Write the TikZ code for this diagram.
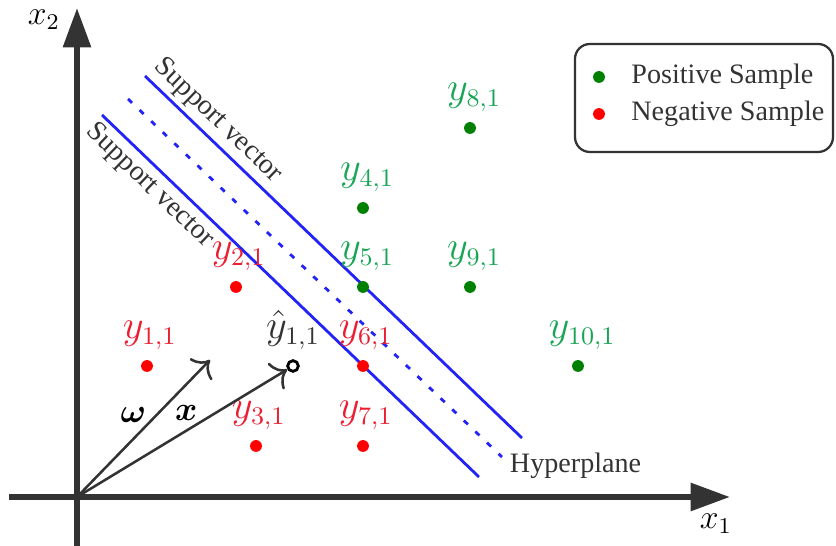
\documentclass[tikz,border=0pt]{standalone}
\usepackage{amsmath}
\usepackage{amssymb}
\usepackage{fontspec}
\setmainfont{Liberation Serif}
\usetikzlibrary{arrows.meta,positioning}

\definecolor{axisgray}{RGB}{51,51,51}
\definecolor{svblue}{RGB}{35,35,245}
\definecolor{dotgreen}{RGB}{0,128,0}
\definecolor{dotred}{RGB}{255,0,0}
\definecolor{labgreen}{RGB}{25,165,85}
\definecolor{labred}{RGB}{235,30,50}

\begin{document}
\begin{tikzpicture}[x=0.0125cm, y=0.0125cm,
    axis/.style={line width=2.1pt, draw=axisgray, -{Triangle[length=14pt,width=9.6pt]}},
    posdot/.style={circle, fill=dotgreen, inner sep=0pt, minimum size=4.2pt},
    negdot/.style={circle, fill=dotred, inner sep=0pt, minimum size=4.2pt},
    poslab/.style={text=labgreen, font=\fontsize{13.5}{16}\selectfont, xshift=1.5pt},
    neglab/.style={text=labred, font=\fontsize{13.5}{16}\selectfont, xshift=1pt},
    svline/.style={draw=svblue, line width=1pt},
    svtext/.style={sloped, text=axisgray, inner sep=1.6pt},
    vec/.style={draw=axisgray, line width=0.9pt, -{To[length=5pt,width=11pt]}}]
    \useasboundingbox (-77,-49) rectangle (759,497);

    % axes
    \coordinate (O) at (0,0);
    \draw[axis] (-68,0) -- (653,0);
    \draw[axis] (0,-49) -- (0,489);
    \node[font=\large] (x1) at (639,-27) {$x_1$};
    \node[font=\large] (x2) at (-33,477) {$x_2$};

    % margin and hyperplane
    \draw[svline] (25,382) -- (402,20)
        node[pos=0.16, svtext, below] {Support vector};
    \draw[svline] (68,421) -- (445,59)
        node[pos=0.16, svtext, above] {Support vector};
    \draw[svline, dash pattern=on 2pt off 3.7pt] (51,398) -- (425,40)
        node[anchor=west, xshift=-1pt, yshift=-3pt, text=axisgray] {Hyperplane};

    % samples
    \node[posdot, label={[poslab]above:$y_{8,1}$}] (y81) at (393,369) {};
    \node[posdot, label={[poslab]above:$y_{4,1}$}] (y41) at (286,289) {};
    \node[posdot, label={[poslab]above:$y_{5,1}$}] (y51) at (286,210) {};
    \node[posdot, label={[poslab]above:$y_{9,1}$}] (y91) at (393,210) {};
    \node[posdot, label={[poslab]above:$y_{10,1}$}] (y101) at (501,131) {};
    \node[negdot, label={[neglab]above:$y_{2,1}$}] (y21) at (159,210) {};
    \node[negdot, label={[neglab]above:$y_{1,1}$}] (y11) at (70,131) {};
    \node[negdot, label={[neglab]above:$y_{6,1}$}] (y61) at (286,131) {};
    \node[negdot, label={[neglab]above:$y_{3,1}$}] (y31) at (179,51) {};
    \node[negdot, label={[neglab]above:$y_{7,1}$}] (y71) at (286,51) {};
    \node[circle, draw=black, line width=1pt, fill=white, inner sep=0pt, minimum size=3.8pt,
        label={[font=\fontsize{13.5}{16}\selectfont, text=axisgray]above:$\hat{y}_{1,1}$}] (yhat) at (216,131) {};

    % vectors
    \coordinate (wtip) at (133,137);
    \draw[vec] (O) -- (wtip) node[pos=0.6, left, font=\large] {$\boldsymbol{\omega}$};
    \draw[vec] (O) -- (yhat) node[pos=0.52, above, font=\large] {$\boldsymbol{x}$};

    % legend
    \draw[axisgray, line width=0.8pt, rounded corners=5.3pt] (498,345) rectangle (756,453);
    \node[posdot] (legpos) at (522,420) {};
    \node[negdot] (legneg) at (522,383) {};
    \node[right=5.7pt of legpos, text=axisgray] (legpostext) {Positive Sample};
    \node[right=5.7pt of legneg, text=axisgray] (legnegtext) {Negative Sample};
\end{tikzpicture}
\end{document}
